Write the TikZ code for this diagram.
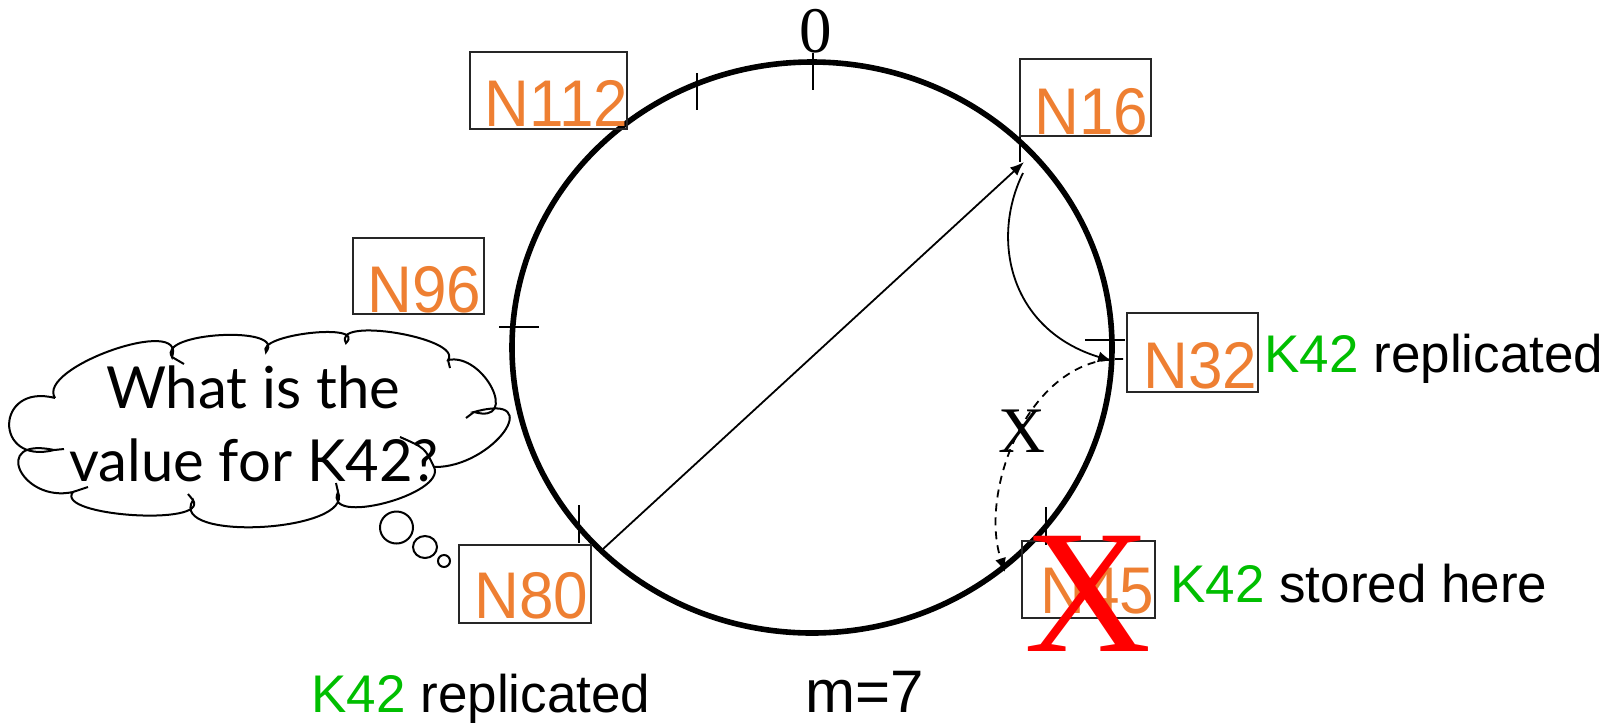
\documentclass[tikz,border=0pt]{standalone}
\usepackage{fontspec}
\setmainfont{Liberation Sans}
\newfontfamily\seriffont{Liberation Serif}
\newfontfamily\cloudfont{Lato}
\newfontfamily\nodefont[FakeStretch=0.94]{Liberation Sans}
\usetikzlibrary{arrows.meta}
\definecolor{norange}{RGB}{238,127,50}
\definecolor{kgreen}{RGB}{0,190,0}
\begin{document}
\begin{tikzpicture}[x=0.5pt,y=-0.5pt,
  ring/.style={line width=2.8pt},
  tickmark/.style={line width=0.9pt},
  nodebox/.style={draw=black!85,line width=1pt,inner sep=0pt,outer sep=0pt},
  nlabel/.style={anchor=base west,inner sep=0pt,text=norange,font=\nodefont\fontsize{33pt}{38pt}\selectfont},
  klabel/.style={anchor=base west,inner sep=0pt,font=\fontsize{26.5pt}{30pt}\selectfont},
  serifmark/.style={anchor=base,inner sep=0pt,font=\seriffont\fontsize{32.5pt}{36pt}\selectfont},
  link/.style={line width=0.9pt,-{Latex[length=7pt,width=5.5pt]}},
  dashlink/.style={link,dash pattern=on 4pt off 3pt},
  cloudline/.style={line width=1pt},
  cloudtext/.style={anchor=base,inner sep=0pt,font=\cloudfont\fontsize{29pt}{34pt}\selectfont}]
\useasboundingbox (0,0) rectangle (1621,725);

% ring
\draw[ring] (812,347.5) ellipse [x radius=300, y radius=285.5];

% ticks
\draw[tickmark] (813,53) -- (813,90);
\draw[tickmark] (697,73) -- (697,110);
\draw[tickmark] (499,327) -- (539,327);
\draw[tickmark] (579,505) -- (579,543);
\draw[tickmark] (1020,125) -- (1020,162);
\draw[tickmark] (1085,340) -- (1125,340);
\draw[tickmark] (1046,507) -- (1046,545);

% boxes
\node[nodebox,minimum width=78.5pt,minimum height=38.5pt] (box112) at (548.5,90.5) {};
\node[nodebox,minimum width=65.5pt,minimum height=38.5pt] (box16) at (1085.5,97.5) {};
\node[nodebox,minimum width=65.5pt,minimum height=38pt] (box96) at (418.5,276) {};
\node[nodebox,minimum width=65.5pt,minimum height=39.5pt] (box32) at (1192.5,352.5) {};
\node[nodebox,minimum width=66pt,minimum height=39pt] (box80) at (525,584) {};
\node[nodebox,minimum width=66.5pt,minimum height=38.5pt] (box45) at (1088.5,579.5) {};

% node labels
\node[nlabel] (n112) at (484,126) {N112};
\node[nlabel] (n16) at (1034,134) {N16};
\node[nlabel] (n96) at (367,312) {N96};
\node[nlabel] (n32) at (1143,388) {N32};
\node[nlabel] (n80) at (474,618) {N80};
\node[nlabel] (n45) at (1040,613) {N45};

% key labels
\node[klabel] (k32) at (1264,372) {{\color{kgreen}K42} replicated};
\node[klabel] (k45) at (1170,602) {{\color{kgreen}K42} stored here};
\node[klabel] (k80) at (311,712) {{\color{kgreen}K42} replicated};
\node[anchor=base west,inner sep=0pt,font=\fontsize{30pt}{34pt}\selectfont] (mval) at (805,712) {m=7};

% zero mark
\node[serifmark] (zero) at (816,52) {0};

% connectors
\coordinate (s80) at (603,549);
\coordinate (t16) at (1024,162);
\coordinate (s16) at (1023,173);
\coordinate (t32) at (1112,361);
\coordinate (s32) at (1123,359);
\coordinate (t45) at (1005,572);
\draw[link] (s80) -- (t16);
\draw[link] (s16) .. controls (990,240) and (1010,330) .. (t32);
\draw[dashlink] (s32) .. controls (1030,355) and (978,490) .. (t45);
\node[serifmark] (xmark) at (1022,452) {X};

% failure cross
\node[anchor=base,inner sep=0pt,text=red,font=\seriffont\fontsize{88pt}{90pt}\selectfont] (fail) at (1088.5,651) {X};

% cloud
\draw[cloudline] (55,398)
  .. controls (35.5,367.6) and (187.6,314.3) .. (172,357)
  .. controls (155.9,332.1) and (287.5,325.1) .. (266,352)
  .. controls (255.3,334.5) and (367.3,321.9) .. (346,343)
  .. controls (330.7,315.9) and (463.3,337.9) .. (448,360)
  .. controls (484.0,352.3) and (520.4,425.1) .. (474,412)
  .. controls (548.5,391.0) and (492.5,468.0) .. (434,467)
  .. controls (447.1,494.5) and (322.3,527.0) .. (338,492)
  .. controls (355.1,532.0) and (166.6,542.4) .. (193,500)
  .. controls (209.7,526.5) and (53.7,516.1) .. (73,492)
  .. controls (20.9,503.3) and (-9.6,436.1) .. (54,450)
  .. controls (-6.8,465.6) and (-5.2,382.4) .. (55,398);
\draw[cloudline] (172,357) -- (184,364);
\draw[cloudline] (448,360) -- (450,368);
\draw[cloudline] (474,412) -- (466,418);
\draw[cloudline] (434,467) .. controls (425,448) .. (400,437);
\draw[cloudline] (338,492) -- (336,483);
\draw[cloudline] (193,500) -- (188,494);
\draw[cloudline] (73,492) -- (88,487);
\draw[cloudline] (54,450) -- (64,449);
\node[cloudtext] (q1) at (253,408) {What is the};
\node[cloudtext] (q2) at (254,481) {value for K42?};

% thought bubbles
\draw[cloudline] (396.5,527.5) ellipse [x radius=16.5, y radius=16];
\draw[cloudline] (425,547) ellipse [x radius=12, y radius=11];
\draw[cloudline] (444,561) ellipse [x radius=6, y radius=6];
\end{tikzpicture}
\end{document}
